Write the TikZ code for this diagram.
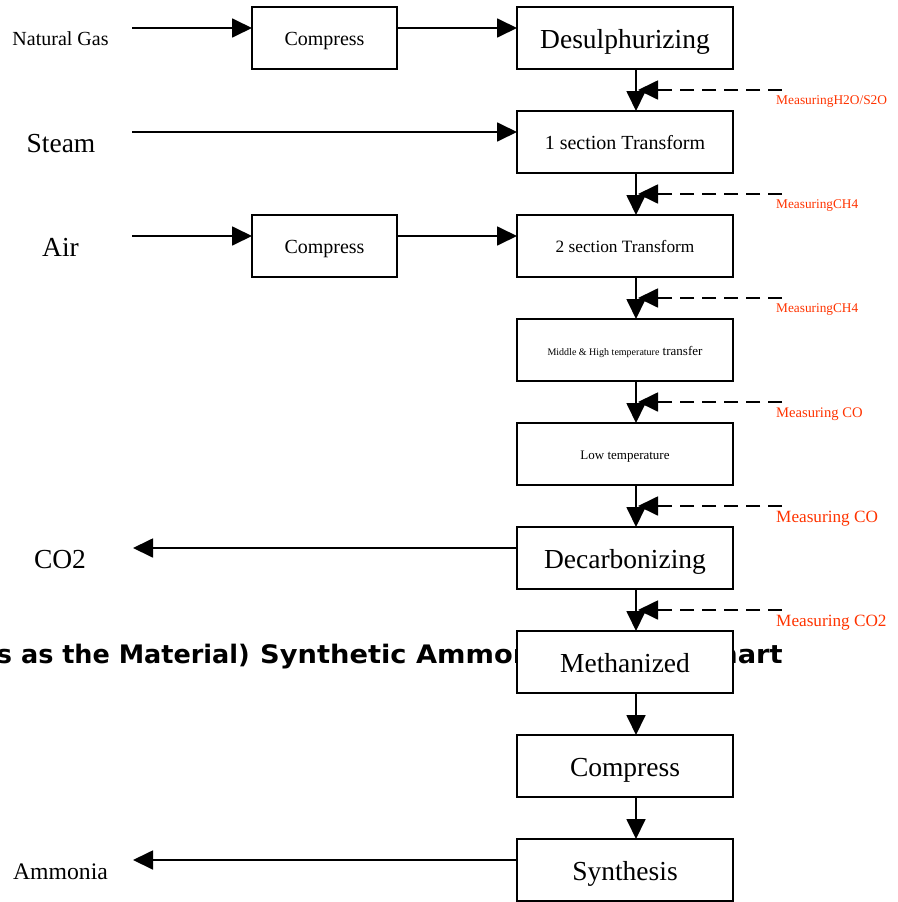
\documentclass[tikz,border=0pt]{standalone}
\usepackage{fontspec}
\setmainfont{Liberation Serif}
\newfontfamily\titlefont{DejaVu Sans}
\usetikzlibrary{arrows.meta}
\definecolor{measred}{HTML}{FF3300}
\begin{document}
\begin{tikzpicture}[x=1pt,y=-1pt,
  box/.style={draw, line width=2pt, fill=white, minimum width=216pt, minimum height=62pt, inner sep=0pt, outer sep=0pt},
  sbox/.style={box, minimum width=145pt},
  arr/.style={line width=1.8pt, -{Triangle[length=20pt,width=19pt]}},
  meas/.style={line width=1.8pt, dash pattern=on 14pt off 8pt, -{Triangle[length=20pt,width=19pt]}},
  mlabel/.style={text=measred, anchor=base west, inner sep=0pt},
  fbig/.style={font=\fontsize{27.5}{30}\selectfont, text height=21.5pt, text depth=0pt},
  famm/.style={font=\fontsize{23.7}{26}\selectfont, text height=18.5pt, text depth=0pt},
  ftwenty/.style={font=\fontsize{20}{22}\selectfont, text height=15.5pt, text depth=0pt},
  fseventeen/.style={font=\fontsize{17.3}{19}\selectfont, text height=13.5pt, text depth=0pt},
  fthirteen/.style={font=\fontsize{13}{15}\selectfont, text height=11pt, text depth=0pt},
  titlestyle/.style={font=\titlefont\bfseries\fontsize{25.5}{28}\selectfont, inner sep=0pt}
]
\useasboundingbox (0,0) rectangle (897,902);

% clipped title behind the column
\begin{scope}
  \clip (0,0) rectangle (897,902);
  \node[titlestyle, anchor=base east] (titleA) at (250,663) {(Natural Gas as the Material)};
  \node[titlestyle, anchor=base west] (titleB) at (260,663) {\scalebox{1.07}[1]{Synthetic Ammonia Process Chart}};
\end{scope}

% main column
\node[box, fbig] (desul) at (625,38) {Desulphurizing};
\node[box, ftwenty] (sec1) at (625,142) {1 section Transform};
\node[box, fseventeen] (sec2) at (625,246) {2 section Transform};
\node[box, fthirteen] (mht) at (625,350) {{\fontsize{10}{12}\selectfont Middle \& High temperature} transfer};
\node[box, fthirteen] (lowt) at (625,454) {Low temperature};
\node[box, fbig] (decarb) at (625,558) {Decarbonizing};
\node[box, fbig] (meth) at (625,662) {Methanized};
\node[box, fbig] (comp3) at (625,766) {Compress};
\node[box, fbig] (synth) at (625,870) {Synthesis};

% side boxes
\node[sbox, ftwenty] (comp1) at (324.5,38) {Compress};
\node[sbox, ftwenty] (comp2) at (324.5,246) {Compress};

% left labels
\node[ftwenty, inner sep=0pt] (ng) at (60.5,38) {Natural Gas};
\node[fbig, inner sep=0pt] (steam) at (61,142) {Steam};
\node[fbig, inner sep=0pt] (air) at (60.5,246) {Air};
\node[fbig, inner sep=0pt] (co2) at (60,558) {CO2};
\node[famm, inner sep=0pt] (ammonia) at (60.5,870) {Ammonia};

% helper coordinates
\coordinate (vx) at (636,0);
\coordinate (ngs) at (132,28);
\coordinate (sts) at (132,132);
\coordinate (airs) at (132,236);
\coordinate (co2e) at (133,548);
\coordinate (amme) at (133,860);

% horizontal arrows
\draw[arr] (ngs) -- (ngs -| comp1.west);
\draw[arr] (ngs -| comp1.east) -- (ngs -| desul.west);
\draw[arr] (sts) -- (sts -| sec1.west);
\draw[arr] (airs) -- (airs -| comp2.west);
\draw[arr] (airs -| comp2.east) -- (airs -| sec2.west);
\draw[arr] (co2e -| decarb.west) -- (co2e);
\draw[arr] (amme -| synth.west) -- (amme);

% vertical arrows
\foreach \a/\b in {desul/sec1, sec1/sec2, sec2/mht, mht/lowt, lowt/decarb, decarb/meth, meth/comp3, comp3/synth}
  \draw[arr] (\a.south -| vx) -- (\b.north -| vx);

% measuring dashed arrows
\foreach \i/\y in {1/90, 2/194, 3/298, 4/402, 5/506, 6/610} {
  \coordinate (ms\i) at (782,\y);
  \coordinate (mt\i) at (638,\y);
  \draw[meas] (ms\i) -- (mt\i);
}

% measuring labels
\node[mlabel, font=\fontsize{13.4}{15}\selectfont] (m1) at (776,104) {MeasuringH2O/S2O};
\node[mlabel, font=\fontsize{13.3}{15}\selectfont] (m2) at (776,208) {MeasuringCH4};
\node[mlabel, font=\fontsize{13.3}{15}\selectfont] (m3) at (776,312) {MeasuringCH4};
\node[mlabel, font=\fontsize{14.6}{16}\selectfont] (m4) at (776,417) {Measuring CO};
\node[mlabel, font=\fontsize{17.2}{19}\selectfont] (m5) at (776,522) {Measuring CO};
\node[mlabel, font=\fontsize{17.2}{19}\selectfont] (m6) at (776,626) {Measuring CO2};
\end{tikzpicture}
\end{document}
